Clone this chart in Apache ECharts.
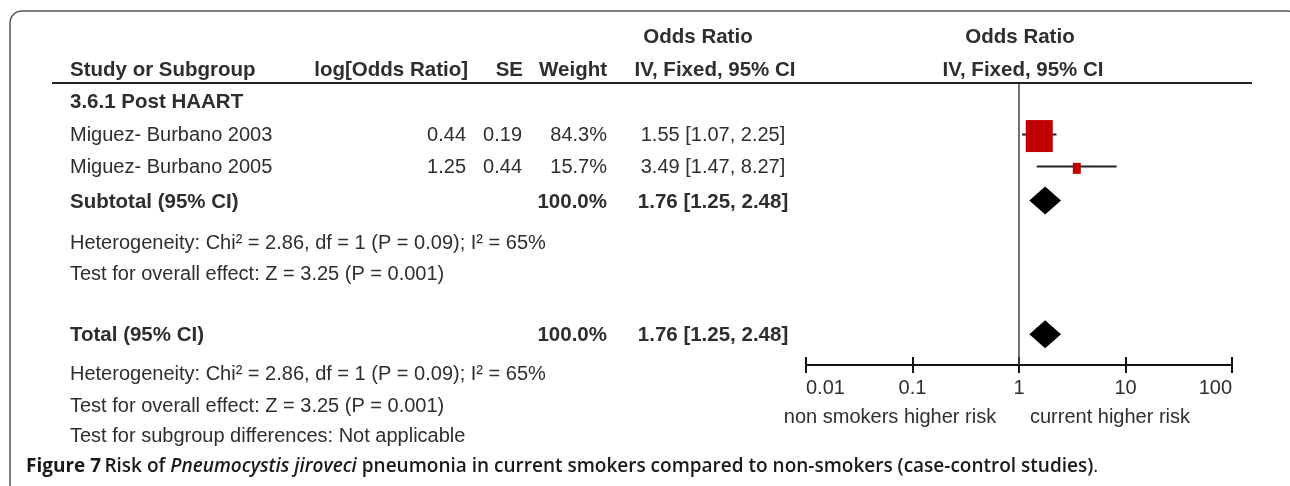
<!DOCTYPE html>
<html>
<head>
<meta charset="utf-8">
<script src="https://cdn.jsdelivr.net/npm/echarts@6/dist/echarts.min.js"></script>
<style>
html,body{margin:0;padding:0;background:#fff;}
#chart{width:1290px;height:486px;}
</style>
</head>
<body>
<div id="chart"></div>
<script>
// ---------- data ----------
const studies   = ['Miguez- Burbano 2003', 'Miguez- Burbano 2005'];
const logOR     = ['0.44', '1.25'];
const seVals    = ['0.19', '0.44'];
const weights   = ['84.3%', '15.7%'];
const orVals    = [1.55, 3.49];
const ciLow     = [1.07, 1.47];
const ciHigh    = [2.25, 8.27];
const orLabels  = ['1.55 [1.07, 2.25]', '3.49 [1.47, 8.27]'];

const pooledNames   = ['Subtotal (95% CI)', 'Total (95% CI)'];
const pooledWeight  = ['100.0%', '100.0%'];
const pooledOR      = [1.76, 1.76];
const pooledLow     = [1.25, 1.25];
const pooledHigh    = [2.48, 2.48];
const pooledLabels  = ['1.76 [1.25, 2.48]', '1.76 [1.25, 2.48]'];

const subgroupName  = '3.6.1 Post HAART';
const hetText       = 'Heterogeneity: Chi² = 2.86, df = 1 (P = 0.09); I² = 65%';
const effectText    = 'Test for overall effect: Z = 3.25 (P = 0.001)';
const subgroupDiff  = 'Test for subgroup differences: Not applicable';
const axisTicks     = [0.01, 0.1, 1, 10, 100];
const favoursLeft   = 'non smokers higher risk';
const favoursRight  = 'current higher risk';

// ---------- layout (row slots, 1 slot = ROW px from grid top) ----------
const GRID_TOP = 84, ROW = 32, GRID_H = 281;
const studyRows  = [1.58, 2.58];
const pooledRows = [3.64, 7.82];
const rowPx = r => GRID_TOP + ROW * r;
// marker sizes (style)
const markerW = [27, 8], markerH = [32, 11];

const FONT = 'Liberation Sans, Arial, Helvetica, sans-serif';
const TXT = '#2e2e2e';

const chart = echarts.init(document.getElementById('chart'), null, {renderer: 'canvas'});

function txt(x, y, text, opt) {
  opt = opt || {};
  const size = opt.size || (opt.bold ? 20.5 : 20);
  return {
    type: 'text', x: x, y: y, silent: true,
    style: {
      text: text, fill: opt.fill || TXT,
      font: (opt.bold ? 'bold ' : '') + size + 'px ' + FONT,
      textAlign: opt.align || 'left', textVerticalAlign: 'middle'
    }
  };
}

const graphics = [];
// frame
graphics.push({type: 'rect', shape: {x: 10, y: 11, width: 1290, height: 520, r: 12},
  style: {fill: 'none', stroke: '#555', lineWidth: 1.5}, silent: true, z: -1});
// header line
graphics.push({type: 'line', shape: {x1: 52, y1: 83, x2: 1252, y2: 83},
  style: {stroke: '#222', lineWidth: 2}, silent: true});
// headers
graphics.push(txt(698, 37, 'Odds Ratio', {bold: true, align: 'center'}));
graphics.push(txt(1020, 37, 'Odds Ratio', {bold: true, align: 'center'}));
graphics.push(txt(70, 70, 'Study or Subgroup', {bold: true}));
graphics.push(txt(468, 70, 'log[Odds Ratio]', {bold: true, align: 'right'}));
graphics.push(txt(523, 70, 'SE', {bold: true, align: 'right'}));
graphics.push(txt(607, 70, 'Weight', {bold: true, align: 'right'}));
graphics.push(txt(715, 70, 'IV, Fixed, 95% CI', {bold: true, align: 'center'}));
graphics.push(txt(1023, 70, 'IV, Fixed, 95% CI', {bold: true, align: 'center'}));
// subgroup
graphics.push(txt(70, rowPx(0.58), subgroupName, {bold: true}));
// studies
studies.forEach((s, i) => {
  const y = rowPx(studyRows[i]) + 0.5;
  graphics.push(txt(70, y, s));
  graphics.push(txt(466, y, logOR[i], {align: 'right'}));
  graphics.push(txt(522, y, seVals[i], {align: 'right'}));
  graphics.push(txt(607, y, weights[i], {align: 'right'}));
  graphics.push(txt(713, y, orLabels[i], {align: 'center'}));
});
// pooled rows
pooledNames.forEach((s, i) => {
  const y = rowPx(pooledRows[i]) + 1.5;
  graphics.push(txt(70, y, s, {bold: true}));
  graphics.push(txt(607, y, pooledWeight[i], {bold: true, align: 'right'}));
  graphics.push(txt(713, y, pooledLabels[i], {bold: true, align: 'center'}));
});
graphics.push(txt(70, rowPx(4.97), hetText));
graphics.push(txt(70, rowPx(5.96), effectText));
graphics.push(txt(70, rowPx(9.08), hetText));
graphics.push(txt(70, rowPx(10.08), effectText));
graphics.push(txt(70, rowPx(11.02), subgroupDiff));
// favours labels
graphics.push(txt(890, 417, favoursLeft, {align: 'center'}));
graphics.push(txt(1110, 417, favoursRight, {align: 'center'}));
// caption
graphics.push({
  type: 'text', x: 26, y: 467, silent: true,
  style: {
    text: '{b|Figure 7} {s|Risk of }{i|Pneumocystis jiroveci}{s| pneumonia in current smokers compared to non-smokers (case-control studies)}{r|.}',
    textVerticalAlign: 'middle', fill: '#1a1a1a',
    rich: {
      b: {font: 'bold 19px "Open Sans", sans-serif', fill: '#1a1a1a'},
      s: {font: '600 19px "Open Sans", sans-serif', fill: '#1a1a1a'},
      i: {font: 'italic 600 19px "Open Sans", sans-serif', fill: '#1a1a1a'},
      r: {font: '400 19px "Open Sans", sans-serif', fill: '#1a1a1a'}
    }
  }
});

const studyData = studies.map((s, i) => [orVals[i], studyRows[i], ciLow[i], ciHigh[i], i]);
const pooledData = pooledNames.map((s, i) => [pooledOR[i], pooledRows[i], pooledLow[i], pooledHigh[i], i]);

const xBase = {
  type: 'log', logBase: 10, min: axisTicks[0], max: axisTicks[axisTicks.length - 1],
  position: 'bottom', splitLine: {show: false}
};

chart.setOption({
  animation: false,
  backgroundColor: '#fff',
  grid: [
    {left: 806, top: GRID_TOP, width: 426, height: GRID_H, containLabel: false},
    // helper grid whose bottom edge sits 8px below the axis line: carries upward ticks
    {left: 806, top: GRID_TOP, width: 426, height: GRID_H + 8, containLabel: false}
  ],
  xAxis: [
    Object.assign({}, xBase, {
      gridIndex: 0,
      axisLine: {show: true, onZero: false, lineStyle: {color: '#111', width: 2}},
      axisTick: {show: false},
      axisLabel: {
        show: true, fontSize: 20, color: TXT, fontFamily: FONT, margin: 13,
        alignMinLabel: 'left', alignMaxLabel: 'right',
        formatter: v => String(+(+v).toPrecision(6))
      }
    }),
    Object.assign({}, xBase, {
      gridIndex: 1,
      axisLine: {show: false, onZero: false},
      axisTick: {show: true, inside: true, length: 16, lineStyle: {color: '#111', width: 2}},
      axisLabel: {show: false}
    })
  ],
  yAxis: [
    {type: 'value', min: 0, max: GRID_H / ROW, inverse: true, show: false, gridIndex: 0},
    {type: 'value', min: 0, max: 1, show: false, gridIndex: 1}
  ],
  graphic: graphics,
  series: [
    {
      type: 'custom', coordinateSystem: 'cartesian2d', xAxisIndex: 0, yAxisIndex: 0,
      data: studyData, encode: {x: [0, 2, 3], y: 1},
      renderItem: function (params, api) {
        const i = api.value(4);
        const c = api.coord([api.value(0), api.value(1)]);
        const l = api.coord([api.value(2), api.value(1)]);
        const h = api.coord([api.value(3), api.value(1)]);
        const w = markerW[i], hh = markerH[i];
        return {type: 'group', children: [
          {type: 'line', shape: {x1: l[0], y1: c[1], x2: h[0], y2: c[1]}, style: {stroke: '#222', lineWidth: 2}},
          {type: 'rect', shape: {x: c[0] - w / 2, y: c[1] - hh / 2 + (i === 0 ? 1.5 : 1.8), width: w, height: hh}, style: {fill: '#c00000'}}
        ]};
      },
      markLine: {
        silent: true, symbol: 'none', label: {show: false},
        lineStyle: {color: '#444', width: 1.5, type: 'solid'},
        data: [{xAxis: 1}]
      },
      z: 3
    },
    {
      type: 'custom', coordinateSystem: 'cartesian2d', xAxisIndex: 0, yAxisIndex: 0,
      data: pooledData, encode: {x: [0, 2, 3], y: 1},
      renderItem: function (params, api) {
        const c = api.coord([api.value(0), api.value(1)]);
        const l = api.coord([api.value(2), api.value(1)]);
        const h = api.coord([api.value(3), api.value(1)]);
        const d = 14;
        return {type: 'polygon', shape: {points: [[l[0], c[1]], [c[0], c[1] - d], [h[0], c[1]], [c[0], c[1] + d]]},
          style: {fill: '#000'}};
      },
      z: 3
    }
  ]
});
</script>
</body>
</html>
